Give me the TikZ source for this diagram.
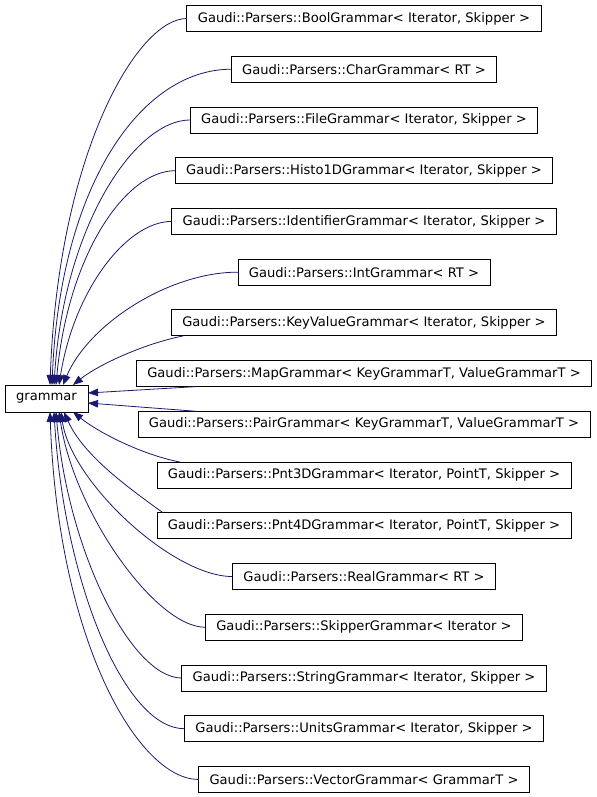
\documentclass[tikz,border=0pt]{standalone}
\usepackage{fontspec}
\setmainfont{DejaVu Sans}
\usetikzlibrary{arrows.meta,positioning}
\definecolor{edgeblue}{RGB}{25,25,112}

\begin{document}
\begin{tikzpicture}[x=1bp, y=-1bp, node distance=24.73bp,
  font=\fontsize{13.1bp}{15bp}\selectfont,
  cls/.style={draw, fill=white, line width=0.8bp, outer sep=0pt, minimum height=26bp, inner xsep=11bp, inner ysep=2bp},
  inh/.style={edgeblue, line width=0.8bp, -{Triangle[length=10bp,width=7.5bp]}}]
  \useasboundingbox (0,0) rectangle (597,797);
  \node[cls, minimum width=83bp, minimum height=27bp] (grammar) at (46.5,398.5) {grammar};
  \node[cls] (bool) at (364,18.5) {Gaudi::Parsers::BoolGrammar< Iterator, Skipper >};
  \node[cls, below=of bool] (char) {Gaudi::Parsers::CharGrammar< RT >};
  \node[cls, below=of char] (file) {Gaudi::Parsers::FileGrammar< Iterator, Skipper >};
  \node[cls, below=of file] (histo) {Gaudi::Parsers::Histo1DGrammar< Iterator, Skipper >};
  \node[cls, below=of histo] (ident) {Gaudi::Parsers::IdentifierGrammar< Iterator, Skipper >};
  \node[cls, below=of ident] (int) {Gaudi::Parsers::IntGrammar< RT >};
  \node[cls, below=of int] (keyval) {Gaudi::Parsers::KeyValueGrammar< Iterator, Skipper >};
  \node[cls, below=of keyval] (map) {Gaudi::Parsers::MapGrammar< KeyGrammarT, ValueGrammarT >};
  \node[cls, below=of map] (pair) {Gaudi::Parsers::PairGrammar< KeyGrammarT, ValueGrammarT >};
  \node[cls, below=of pair] (pnt3) {Gaudi::Parsers::Pnt3DGrammar< Iterator, PointT, Skipper >};
  \node[cls, below=of pnt3] (pnt4) {Gaudi::Parsers::Pnt4DGrammar< Iterator, PointT, Skipper >};
  \node[cls, below=of pnt4] (real) {Gaudi::Parsers::RealGrammar< RT >};
  \node[cls, below=of real] (skipper) {Gaudi::Parsers::SkipperGrammar< Iterator >};
  \node[cls, below=of skipper] (string) {Gaudi::Parsers::StringGrammar< Iterator, Skipper >};
  \node[cls, below=of string] (units) {Gaudi::Parsers::UnitsGrammar< Iterator, Skipper >};
  \node[cls, below=of units] (vector) {Gaudi::Parsers::VectorGrammar< GrammarT >};

  \draw[inh] (bool.west) .. controls +(-50,0) and +(8,-230) .. ([xshift=45bp]grammar.north west);
  \draw[inh] (char.west) .. controls +(-90,0) and +(8,-200) .. ([xshift=47bp]grammar.north west);
  \draw[inh] (file.west) .. controls +(-55,0) and +(10,-160) .. ([xshift=49bp]grammar.north west);
  \draw[inh] (histo.west) .. controls +(-50,0) and +(12,-130) .. ([xshift=51bp]grammar.north west);
  \draw[inh] (ident.west) .. controls +(-45,0) and +(15,-95) .. ([xshift=54bp]grammar.north west);
  \draw[inh] (int.west) .. controls +(-70,0) and +(25,-60) .. ([xshift=58bp]grammar.north west);
  \draw[inh] ([xshift=12bp]keyval.south west) .. controls +(-40,8) and +(25,-20) .. ([xshift=68bp]grammar.north west);
  \draw[inh] ([xshift=60bp]map.south west) -- ([yshift=5.5bp]grammar.east);
  \draw[inh] ([xshift=59bp]pair.north west) -- ([yshift=-4.5bp]grammar.east);
  \draw[inh] ([xshift=23bp]pnt3.north west) .. controls +(-40,-8) and +(25,20) .. ([xshift=68bp]grammar.south west);
  \draw[inh] ([xshift=6bp]pnt4.north west) .. controls +(-30,-22) and +(20,45) .. ([xshift=59bp]grammar.south west);
  \draw[inh] (real.west) .. controls +(-60,0) and +(10,70) .. ([xshift=56bp]grammar.south west);
  \draw[inh] (skipper.west) .. controls +(-50,0) and +(15,100) .. ([xshift=54bp]grammar.south west);
  \draw[inh] (string.west) .. controls +(-50,0) and +(12,140) .. ([xshift=51bp]grammar.south west);
  \draw[inh] (units.west) .. controls +(-60,0) and +(10,170) .. ([xshift=49bp]grammar.south west);
  \draw[inh] (vector.west) .. controls +(-60,0) and +(8,230) .. ([xshift=45bp]grammar.south west);
\end{tikzpicture}
\end{document}
